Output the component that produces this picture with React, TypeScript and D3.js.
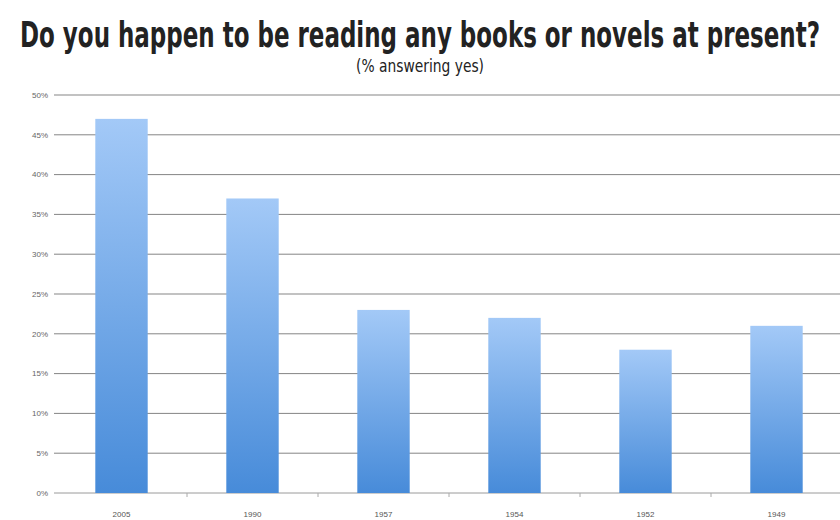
import React from 'react';
import * as d3 from 'd3';

const years = ['2005', '1990', '1957', '1954', '1952', '1949'];
const pctYes = [47, 37, 23, 22, 18, 21];
const yTicks = [0, 5, 10, 15, 20, 25, 30, 35, 40, 45, 50];

const W = 840;
const H = 520;
const margin = { top: 95, right: 0, bottom: 27, left: 54 };

export default function App() {
  const x = d3.scaleBand<string>()
    .domain(years)
    .range([margin.left + 2, W + 2])
    .paddingInner(0.6)
    .paddingOuter(0.3);

  const y = d3.scaleLinear()
    .domain([0, 50])
    .range([H - margin.bottom, margin.top]);

  const step = x.step();
  const boundaries = years.slice(1).map(yr => (x(yr) ?? 0) - (step - x.bandwidth()) / 2);

  const narrow = '"Liberation Sans Narrow", "DejaVu Sans Condensed", sans-serif';

  return (
    <svg
      width={W}
      height={H}
      style={{ position: 'absolute', left: 0, top: 0, background: '#fff' }}
    >
      <defs>
        <linearGradient id="barGrad" x1="0" y1="0" x2="0" y2="1">
          <stop offset="0%" stopColor="#a3c9f7" />
          <stop offset="100%" stopColor="#478bd9" />
        </linearGradient>
      </defs>

      {/* tall condensed title: small font stretched vertically */}
      <text
        transform={`translate(${W / 2},47) scale(1,1.45)`}
        textAnchor="middle"
        textLength={800}
        lengthAdjust="spacingAndGlyphs"
        style={{ fontFamily: narrow, fontWeight: 700, fontSize: 24, fill: '#222' }}
      >
        Do you happen to be reading any books or novels at present?
      </text>
      <text
        transform={`translate(${W / 2},72) scale(1,1.3)`}
        textAnchor="middle"
        textLength={128}
        lengthAdjust="spacingAndGlyphs"
        style={{ fontFamily: narrow, fontSize: 13, fill: '#222' }}
      >
        (% answering yes)
      </text>

      {yTicks.map(t => (
        <g key={t}>
          <line
            x1={margin.left}
            x2={W}
            y1={y(t)}
            y2={y(t)}
            stroke={t === 0 ? '#9a9a9a' : '#858585'}
            strokeWidth={1}
          />
          <text
            x={margin.left - 6}
            y={y(t)}
            dy="0.35em"
            textAnchor="end"
            style={{ fontFamily: '"Liberation Sans", Arial, sans-serif', fontSize: 8, fill: '#666' }}
          >
            {t}%
          </text>
        </g>
      ))}

      {boundaries.map((bx, i) => (
        <line key={i} x1={bx} x2={bx} y1={y(0)} y2={y(0) + 4} stroke="#aaa" />
      ))}

      {years.map((yr, i) => (
        <rect
          key={yr}
          x={x(yr)}
          y={y(pctYes[i])}
          width={x.bandwidth()}
          height={y(0) - y(pctYes[i])}
          fill="url(#barGrad)"
        />
      ))}

      {years.map(yr => (
        <text
          key={yr}
          x={(x(yr) ?? 0) + x.bandwidth() / 2}
          y={H - 3}
          textAnchor="middle"
          style={{ fontFamily: '"Liberation Sans", Arial, sans-serif', fontSize: 8, fill: '#555' }}
        >
          {yr}
        </text>
      ))}
    </svg>
  );
}
